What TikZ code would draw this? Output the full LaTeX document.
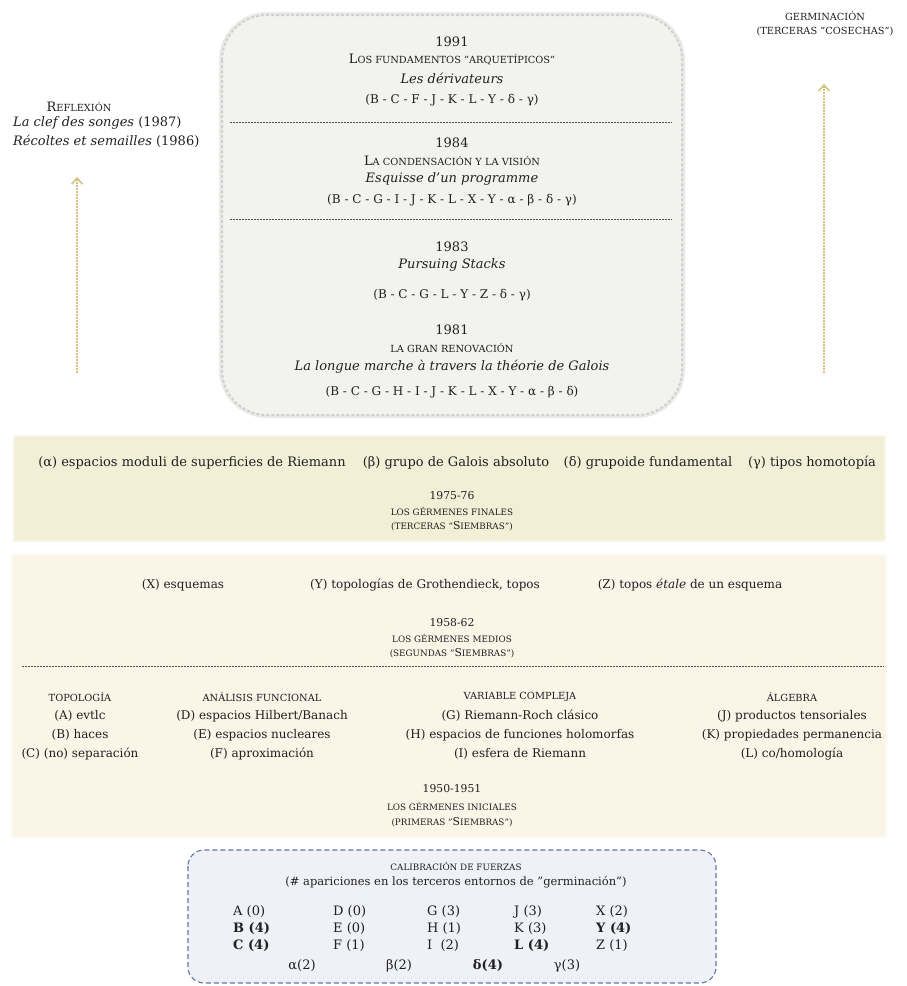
\documentclass[tikz,border=0pt]{standalone}
\usepackage{fontspec}
\setmainfont{DejaVu Serif}
\usetikzlibrary{arrows.meta}
\definecolor{boxgray}{HTML}{F2F2EF}
\definecolor{boxedge}{HTML}{D0D0CE}
\definecolor{bandone}{HTML}{F2EFD7}
\definecolor{bandtwo}{HTML}{FBF5E8}
\definecolor{calfill}{HTML}{EFF1F6}
\definecolor{caledge}{HTML}{6178AE}
\definecolor{arrowgold}{HTML}{D6C27E}
\definecolor{ink}{HTML}{202020}
% small capitals, two sizes
\newcommand\sct[1]{{\fontsize{8.8}{10}\selectfont #1}}
\newcommand\scl[1]{{\fontsize{9.8}{11}\selectfont #1}}

\begin{document}
\begin{tikzpicture}[x=1pt,y=-1pt,
	every node/.style={inner sep=0pt,text=ink},
	txt/.style={font=\fontsize{13}{15}\selectfont},
	itl/.style={font=\fontsize{13}{15}\selectfont\itshape},
	lst/.style={font=\fontsize{12}{14}\selectfont},
	yeartxt/.style={font=\fontsize{10.8}{12}\selectfont},
	growarrow/.style={line width=1.6pt,color=arrowgold,dash pattern=on 2pt off 1pt,-{Straight Barb[length=6pt,width=11pt]}},
	sepline/.style={line width=0.5pt,color=ink!80,dash pattern=on 2pt off 1pt}]
			%%%%% START %%%%%
			\useasboundingbox (0,0) rectangle (906,986);
			
			%%%%% REFLEXION %%%%%
			\node[txt] (reflex) at (79,107) {R\scl{EFLEXIÓN}};
			\node[txt,anchor=west] (clef) at (13,123) {\textit{La clef des songes} (1987)};
			\node[txt,anchor=west] (recoltes) at (13,141) {\textit{Récoltes et semailles} (1986)};
			\coordinate (reflexfoot) at (77,373);
			\coordinate (reflexhead) at (77,177);
			\draw[growarrow] (reflexfoot) -- (reflexhead);
			
			%%%%% GERMINACION %%%%%
			\node[txt] (germ) at (825,16) {\scl{GERMINACIÓN}};
			\node[txt] (cosechas) at (825,32) {\scl{(TERCERAS "COSECHAS")}};
			\coordinate (germfoot) at (824,373);
			\coordinate (germhead) at (824,84);
			\draw[growarrow] (germfoot) -- (germhead);
			
			%%%%% TOP BOX %%%%%
			\draw[draw=boxedge!45,line width=6pt,rounded corners=45pt] (222,15) rectangle (682,415);
			\draw[fill=boxgray,draw=boxedge,line width=2pt,dash pattern=on 3pt off 2pt,rounded corners=45pt] (222,15) rectangle (682,415);
			
			\node[txt] (y1991) at (452,42) {1991};
			\node[txt] (t1991) at (452,60) {L\scl{OS FUNDAMENTOS "ARQUETÍPICOS"}};
			\node[itl] (w1991) at (452,78) {Les dérivateurs};
			\node[lst] (l1991) at (452,100) {(B - C - F - J - K - L - Y - δ - γ)};
			\draw[sepline] (230,122) -- (672,122);
			
			\node[txt] (y1984) at (452,143) {1984};
			\node[txt] (t1984) at (452,161) {L\scl{A CONDENSACIÓN Y LA VISIÓN}};
			\node[itl] (w1984) at (452,179) {Esquisse d'un programme};
			\node[lst] (l1984) at (452,200) {(B - C - G - I - J - K - L - X - Y - α - β - δ - γ)};
			\draw[sepline] (230,219) -- (672,219);
			
			\node[txt] (y1983) at (452,247) {1983};
			\node[itl] (w1983) at (452,265) {Pursuing Stacks};
			\node[lst] (l1983) at (452,295) {(B - C - G - L - Y - Z - δ - γ)};
			
			\node[txt] (y1981) at (452,330) {1981};
			\node[txt] (t1981) at (452,348) {\scl{LA GRAN RENOVACIÓN}};
			\node[itl] (w1981) at (452,367) {La longue marche à travers la théorie de Galois};
			\node[lst] (l1981) at (452,392) {(B - C - G - H - I - J - K - L - X - Y - α - β - δ)};
			
			%%%%% THIRD SOWING %%%%%
			\draw[draw=bandone!55,line width=4pt] (15,437) rectangle (884,540);
			\fill[bandone] (15,437) rectangle (884,540);
			
			\node[txt] (alpha) at (192,463) {(α) espacios moduli de superficies de Riemann};
			\node[txt] (beta) at (456,463) {(β) grupo de Galois absoluto};
			\node[txt] (delta) at (648,463) {(δ) grupoide fundamental};
			\node[txt] (gamma) at (812,463) {(γ) tipos homotopía};
			
			\node[yeartxt] (y1975) at (452,496) {1975-76};
			\node[yeartxt] (t1975) at (452,511) {\sct{LOS GÉRMENES FINALES}};
			\node[yeartxt] (s1975) at (452,526) {\sct{(TERCERAS "}S\sct{IEMBRAS")}};
			
			%%%%% SECOND SOWING %%%%%
			\draw[draw=bandtwo!60,line width=4pt] (13,556) rectangle (885,836);
			\fill[bandtwo] (13,556) rectangle (885,836);
			
			\node[lst] (schX) at (183,585) {(X) esquemas};
			\node[lst] (schY) at (425,585) {(Y) topologías de Grothendieck, topos};
			\node[lst] (schZ) at (690,585) {(Z) topos \textit{étale} de un esquema};
			
			\node[yeartxt] (y1958) at (452,623) {1958-62};
			\node[yeartxt] (t1958) at (452,638) {\sct{LOS GÉRMENES MEDIOS}};
			\node[yeartxt] (s1958) at (452,653) {\sct{(SEGUNDAS "}S\sct{IEMBRAS")}};
			\draw[sepline] (22,666) -- (884,666);
			
			%%%%% FIRST SOWING %%%%%
			\node[lst] (topo) at (80,697) {\scl{TOPOLOGÍA}};
			\node[lst] (itemA) at (80,716) {(A) evtlc};
			\node[lst] (itemB) at (80,735) {(B) haces};
			\node[lst] (itemC) at (80,754) {(C) (no) separación};
			
			\node[lst] (func) at (262,697) {\scl{ANÁLISIS FUNCIONAL}};
			\node[lst] (itemD) at (262,716) {(D) espacios Hilbert/Banach};
			\node[lst] (itemE) at (262,735) {(E) espacios nucleares};
			\node[lst] (itemF) at (262,754) {(F) aproximación};
			
			\node[lst] (varc) at (520,697) {\scl{VARIABLE COMPLEJA}};
			\node[lst] (itemG) at (520,716) {(G) Riemann-Roch clásico};
			\node[lst] (itemH) at (520,735) {(H) espacios de funciones holomorfas};
			\node[lst] (itemI) at (520,754) {(I) esfera de Riemann};
			
			\node[lst] (alg) at (792,697) {\scl{ÁLGEBRA}};
			\node[lst] (itemJ) at (792,716) {(J) productos tensoriales};
			\node[lst] (itemK) at (792,735) {(K) propiedades permanencia};
			\node[lst] (itemL) at (792,754) {(L) co/homología};
			
			\node[yeartxt] (y1950) at (452,789) {1950-1951};
			\node[yeartxt] (t1950) at (452,806) {\sct{LOS GÉRMENES INICIALES}};
			\node[yeartxt] (s1950) at (452,822) {\sct{(PRIMERAS "}S\sct{IEMBRAS")}};
			
			%%%%% CALIBRATION %%%%%
			\draw[fill=calfill,draw=caledge,line width=1.1pt,dash pattern=on 5pt off 3pt,rounded corners=16pt] (188,850) rectangle (716,983);
			
			\node[yeartxt] (calib) at (456,866) {\sct{CALIBRACIÓN DE FUERZAS}};
			\node[font=\fontsize{11.5}{13}\selectfont] (calsub) at (456,882) {(\# apariciones en los terceros entornos de "germinación")};
			
			\node[txt,anchor=west] (cA) at (233,912) {A (0)};
			\node[txt,anchor=west] (cB) at (233,929) {\textbf{B (4)}};
			\node[txt,anchor=west] (cC) at (233,946) {\textbf{C (4)}};
			\node[txt,anchor=west] (cD) at (333,912) {D (0)};
			\node[txt,anchor=west] (cE) at (333,929) {E (0)};
			\node[txt,anchor=west] (cF) at (333,946) {F (1)};
			\node[txt,anchor=west] (cG) at (427,912) {G (3)};
			\node[txt,anchor=west] (cH) at (427,929) {H (1)};
			\node[txt,anchor=west] (cI) at (427,946) {I~ (2)};
			\node[txt,anchor=west] (cJ) at (514,912) {J (3)};
			\node[txt,anchor=west] (cK) at (514,929) {K (3)};
			\node[txt,anchor=west] (cL) at (514,946) {\textbf{L (4)}};
			\node[txt,anchor=west] (cX) at (596,912) {X (2)};
			\node[txt,anchor=west] (cY) at (596,929) {\textbf{Y (4)}};
			\node[txt,anchor=west] (cZ) at (596,946) {Z (1)};
			
			\node[txt] (cal) at (302,966) {α(2)};
			\node[txt] (cbe) at (399,966) {β(2)};
			\node[txt] (cde) at (488,966) {\textbf{δ(4)}};
			\node[txt] (cga) at (567,966) {γ(3)};
			%%%%% END %%%%%
\end{tikzpicture}
\end{document}
